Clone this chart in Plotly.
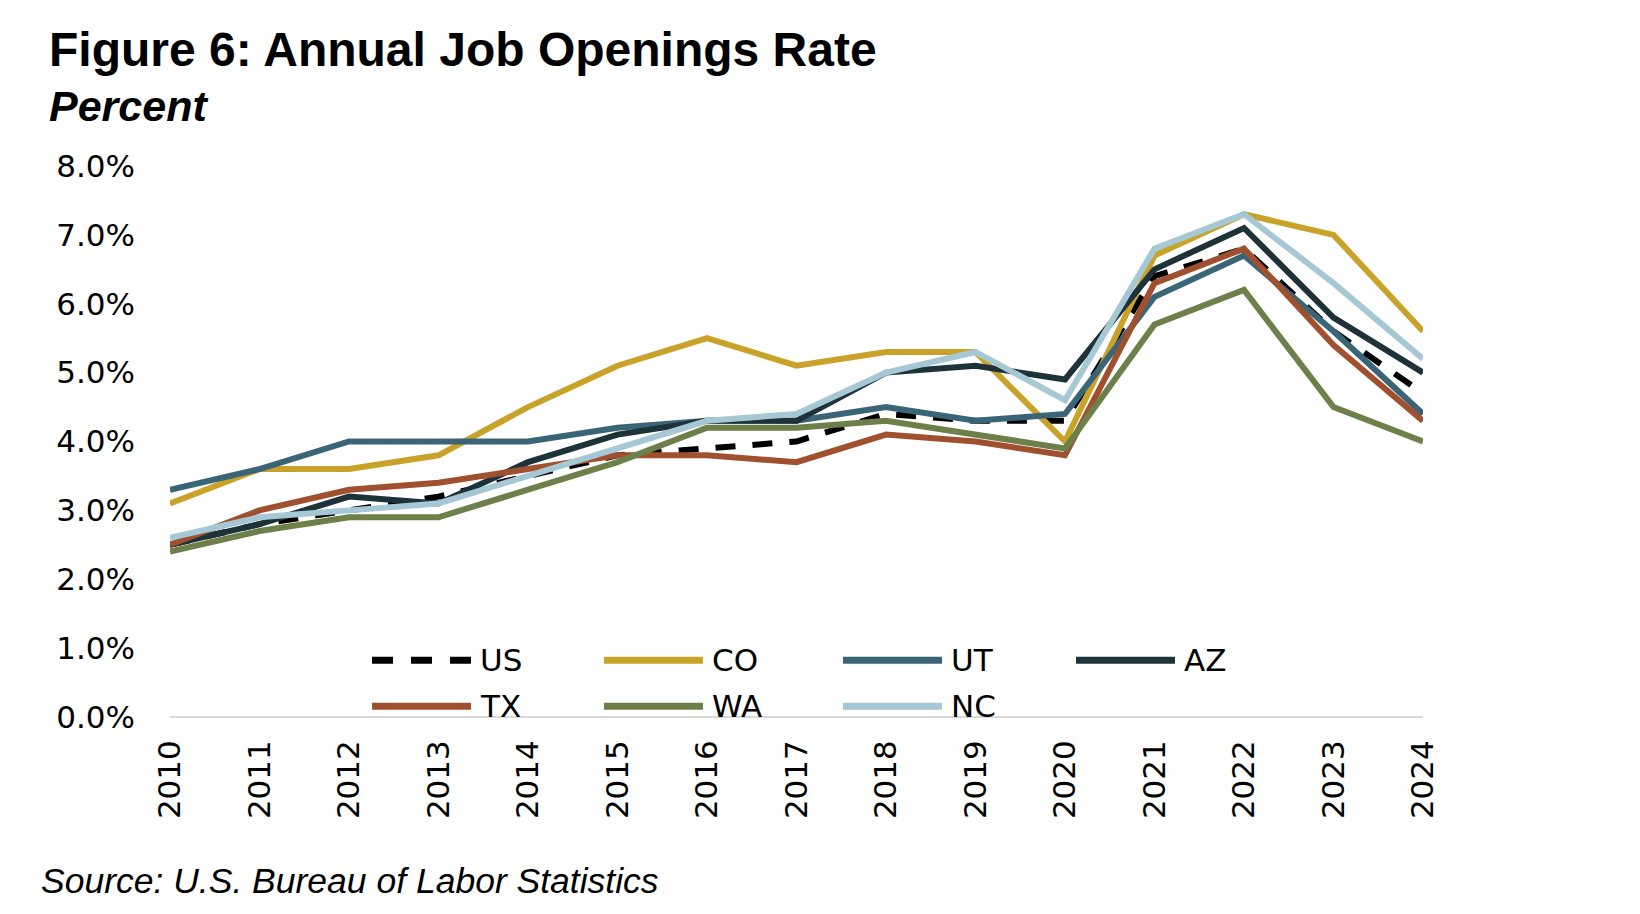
import plotly.graph_objects as go

# annual job openings rate, percent
years = list(range(2010, 2025))
us = [2.5, 2.8, 3.0, 3.2, 3.5, 3.8, 3.9, 4.0, 4.4, 4.3, 4.3, 6.4, 6.8, 5.6, 4.7]
co = [3.1, 3.6, 3.6, 3.8, 4.5, 5.1, 5.5, 5.1, 5.3, 5.3, 4.0, 6.7, 7.3, 7.0, 5.6]
ut = [3.3, 3.6, 4.0, 4.0, 4.0, 4.2, 4.3, 4.3, 4.5, 4.3, 4.4, 6.1, 6.7, 5.6, 4.4]
az = [2.5, 2.8, 3.2, 3.1, 3.7, 4.1, 4.3, 4.3, 5.0, 5.1, 4.9, 6.5, 7.1, 5.8, 5.0]
tx = [2.5, 3.0, 3.3, 3.4, 3.6, 3.8, 3.8, 3.7, 4.1, 4.0, 3.8, 6.3, 6.8, 5.4, 4.3]
wa = [2.4, 2.7, 2.9, 2.9, 3.3, 3.7, 4.2, 4.2, 4.3, 4.1, 3.9, 5.7, 6.2, 4.5, 4.0]
nc = [2.6, 2.9, 3.0, 3.1, 3.5, 3.9, 4.3, 4.4, 5.0, 5.3, 4.6, 6.8, 7.3, 6.3, 5.2]

names = ["US", "CO", "UT", "AZ", "TX", "WA", "NC"]
series = [us, co, ut, az, tx, wa, nc]
colors = ["#000000", "#C9A22A", "#3A6577", "#1E3239", "#A0502E", "#6E804A", "#A6C7D4"]
dashes = ["20px,17px", "solid", "solid", "solid", "solid", "solid", "solid"]

# the page body has an 8px margin, so the figure is a bit smaller and
# every target position (in page pixels) is shifted by OFF
OFF = 8
W, H = 1640 - 2 * OFF, 914 - 2 * OFF
px_left, px_right, px_top, px_bottom = 170, 1423, 165.5, 716.7
L, R = px_left - OFF, W - (px_right - OFF)
T, B = px_top - OFF, H - (px_bottom - OFF)
pw, ph = W - L - R, H - T - B


def xp(px):
    return (px - px_left) / pw


def yp(py):
    return (px_bottom - py) / ph


fig = go.Figure()
for n, v, c, d in zip(names, series, colors, dashes):
    fig.add_trace(go.Scatter(x=years, y=[x / 100 for x in v], mode="lines", name=n,
                             line=dict(color=c, width=6, dash=d), showlegend=False))

# hand-drawn legend: 4 columns x 2 rows with long line keys
col_px = [372, 604, 843, 1076]
row_px = [660, 706]
shapes, annos = [], []
for i, (n, c) in enumerate(zip(names, colors)):
    px, py = col_px[i % 4], row_px[i // 4]
    shapes.append(dict(type="line", xref="paper", yref="paper",
                       x0=xp(px), x1=xp(px + 99), y0=yp(py), y1=yp(py),
                       line=dict(color=c, width=7, dash="21px,18px" if n == "US" else "solid")))
    annos.append(dict(text=n, xref="paper", yref="paper", x=xp(px + 106), y=yp(py),
                      xanchor="left", yanchor="middle", showarrow=False,
                      font=dict(family="DejaVu Sans", size=31, color="#000000")))

annos += [
    dict(text="<b>Figure 6: Annual Job Openings Rate</b>", xref="paper", yref="paper",
         x=xp(47), y=yp(49), xanchor="left", yanchor="middle", showarrow=False,
         font=dict(family="Liberation Sans", size=48, color="#000000")),
    dict(text="<b><i>Percent</i></b>", xref="paper", yref="paper",
         x=xp(47), y=yp(105), xanchor="left", yanchor="middle", showarrow=False,
         font=dict(family="Liberation Sans", size=43, color="#000000")),
    dict(text="<i>Source: U.S. Bureau of Labor Statistics</i>", xref="paper", yref="paper",
         x=xp(39), y=yp(881), xanchor="left", yanchor="middle", showarrow=False,
         font=dict(family="Liberation Sans", size=35.5, color="#000000")),
]

fig.update_layout(
    width=W, height=H, margin=dict(l=L, r=R, t=T, b=B),
    paper_bgcolor="white", plot_bgcolor="white",
    font=dict(family="DejaVu Sans", size=31, color="#000000"),
    xaxis=dict(range=[2010, 2024], tickmode="array", tickvals=years,
               ticktext=[str(y) for y in years], tickangle=-90, showgrid=False,
               zeroline=False, showline=False, ticks="", ticklabelstandoff=16,
               tickfont=dict(family="DejaVu Sans", size=31)),
    yaxis=dict(range=[0, 0.08], dtick=0.01, tickformat=".1%", showgrid=False,
               zeroline=True, zerolinecolor="#D9D9D9", zerolinewidth=2,
               showline=False, ticks="", ticklabelstandoff=34,
               tickfont=dict(family="DejaVu Sans", size=31)),
    shapes=shapes, annotations=annos,
)

fig.write_html("out.html")
